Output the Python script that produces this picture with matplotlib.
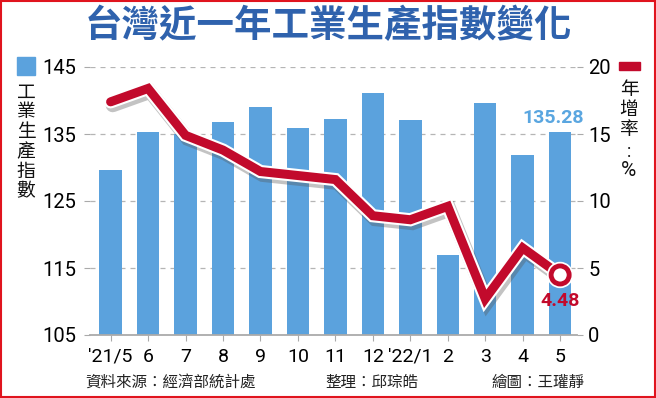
import matplotlib
matplotlib.use("Agg")
import matplotlib.pyplot as plt
import matplotlib.patheffects as pe
from matplotlib.patches import Rectangle

months = ["'21/5", "6", "7", "8", "9", "10", "11", "12", "'22/1", "2", "3", "4", "5"]
index_vals = [129.7, 135.3, 135.0, 136.8, 139.0, 135.9, 137.3, 141.1, 137.1, 117.0, 139.6, 131.9, 135.28]
growth_vals = [17.4, 18.4, 14.9, 13.8, 12.2, 11.9, 11.6, 8.9, 8.6, 9.6, 2.7, 6.5, 4.48]
left_ticks = [105, 115, 125, 135, 145]
right_ticks = [0, 5, 10, 15, 20]

CJK = ['Noto Sans CJK TC', 'DejaVu Sans']
NUM = ['Roboto', 'DejaVu Sans']
BLUE = '#5ba2dd'
RED = '#c20a2c'
TITLE_BLUE = '#2f62ad'
GRID = '#b5b5b5'

W, H = 656, 398
fig = plt.figure(figsize=(W / 100, H / 100), dpi=100)
fig.patch.set_facecolor('white')

def fx(px): return px / W
def fy(py): return 1 - py / H

ax = fig.add_axes([fx(90), fy(335), fx(577) - fx(90), fy(67) - fy(335)])
x = list(range(len(months)))
ax.set_xlim(-0.55, 12.45)
ax.set_ylim(105, 145)
for yv in left_ticks[1:]:
    ax.axhline(yv, color=GRID, lw=0.9, ls=(0, (4, 4)), zorder=0.5)
ax.bar(x, index_vals, width=0.6, color=BLUE, zorder=2)
ax.set_yticks(left_ticks)
ax.set_yticklabels([str(v) for v in left_ticks], fontfamily=NUM, fontsize=14.5)
ax.set_xticks(x)
ax.set_xticklabels(months, fontfamily=NUM, fontsize=14)
for s in ['top', 'left', 'right']:
    ax.spines[s].set_visible(False)
ax.spines['bottom'].set_color('#aaaaaa')
ax.spines['bottom'].set_linewidth(1.3)
ax.tick_params(axis='y', length=4, color='#aaaaaa', pad=6)
ax.tick_params(axis='x', length=4, color='#aaaaaa', pad=5)

ax2 = ax.twinx()
ax2.set_ylim(0, 20)
ax2.set_yticks(right_ticks)
ax2.set_yticklabels([str(v) for v in right_ticks], fontfamily=NUM, fontsize=14.5)
for s in ['top', 'left', 'right', 'bottom']:
    ax2.spines[s].set_visible(False)
ax2.tick_params(axis='y', length=4, color='#aaaaaa', pad=4)

line, = ax2.plot(x, growth_vals, color=RED, lw=6.5, solid_joinstyle='miter',
                 solid_capstyle='round', zorder=5)
line.set_path_effects([
    pe.SimpleLineShadow(offset=(1.5, -2.5), shadow_color='#555555', alpha=0.35, linewidth=10),
    pe.Stroke(linewidth=9.5, foreground='white'),
    pe.Normal()])
ax2.plot([x[-1]], [growth_vals[-1]], 'o', ms=13, mfc='white', mec=RED, mew=3.5, zorder=6,
         path_effects=[pe.Stroke(linewidth=6, foreground='white'), pe.Normal()])

ax.text(x[-1] - 0.18, index_vals[-1] + 0.8, f"{index_vals[-1]:.2f}", color='#5aa6e0', fontsize=14,
        fontweight='bold', fontfamily=NUM, ha='center', va='bottom', zorder=7)
ax2.text(x[-1], growth_vals[-1] - 1.3, f"{growth_vals[-1]:.2f}", color=RED, fontsize=14,
         fontweight='bold', fontfamily=NUM, ha='center', va='top', zorder=7)

# Title
fig.text(0.5, fy(26), '台灣近一年工業生產指數變化', fontfamily=CJK, fontsize=27,
         fontweight='heavy', color=TITLE_BLUE, ha='center', va='center')

# Left legend
fig.patches.append(Rectangle((fx(17), fy(75)), fx(18), fy(57) - fy(75),
                             transform=fig.transFigure, color=BLUE))
for i, ch in enumerate('工業生產指數'):
    fig.text(fx(26), fy(92 + i * 19.8), ch, fontfamily=CJK, fontsize=13.5,
             ha='center', va='center', color='#111111')
# Right legend
fig.patches.append(Rectangle((fx(619), fy(70)), fx(21), fy(62) - fy(70),
                             transform=fig.transFigure, color=RED))
for ch, py in [('年', 90), ('增', 109.5), ('率', 129)]:
    fig.text(fx(629), fy(py), ch, fontfamily=CJK, fontsize=13.5,
             ha='center', va='center', color='#111111')
fig.text(fx(629), fy(152), ':', fontfamily=NUM, fontsize=13,
         ha='center', va='center', color='#111111')
fig.text(fx(629), fy(171), '%', fontfamily=NUM, fontsize=15,
         ha='center', va='center', color='#111111')

# Footer
for px, txt in [(85, '資料來源：經濟部統計處'), (325, '整理：邱琮皓'), (492, '繪圖：王瓘靜')]:
    fig.text(fx(px), fy(382), txt, fontfamily=CJK, fontsize=11.2, color='#222222',
             ha='left', va='center')

# Red frame
fig.patches.append(Rectangle((0.001, 0.002), 0.997, 0.996, transform=fig.transFigure,
                             fill=False, edgecolor='#e0141e', lw=1.5))

fig.savefig('out.png', dpi=100)
